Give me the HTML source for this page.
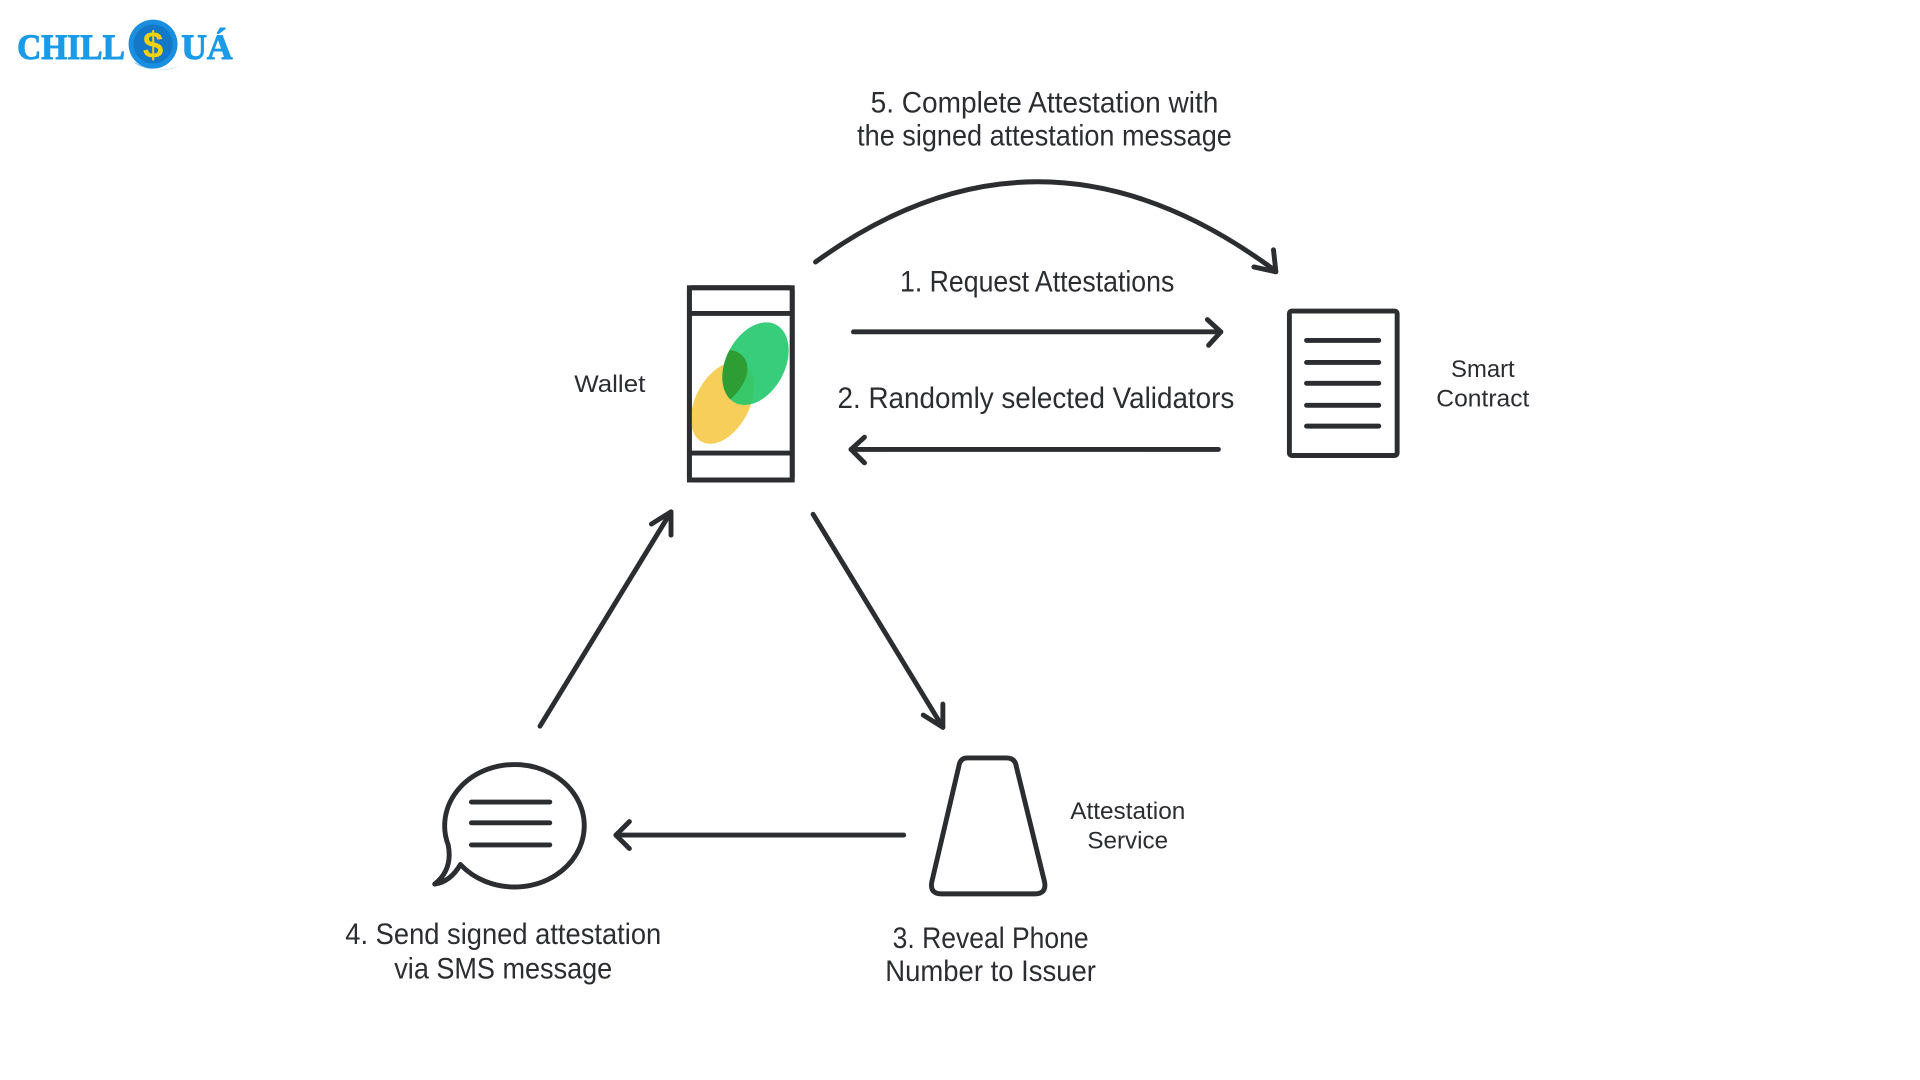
<!DOCTYPE html>
<html><head><meta charset="utf-8"><style>html,body{margin:0;padding:0;background:#fff;overflow:hidden}svg{display:block}</style></head>
<body>
<svg width="1920" height="1080" viewBox="0 0 1567 882" preserveAspectRatio="xMinYMin meet" xmlns="http://www.w3.org/2000/svg">
<rect width="1567" height="882" fill="#fff"/>
<text x="14" y="48" font-family="Liberation Serif, serif" font-weight="bold" font-size="29" fill="#1a9be8" stroke="#1a9be8" stroke-width="0.8" textLength="88" lengthAdjust="spacingAndGlyphs">CHILL</text>
<circle cx="125" cy="36" r="20" fill="#1a8fe0"/>
<circle cx="125" cy="36" r="16" fill="#1478c8"/>
<text x="125" y="47" text-anchor="middle" font-family="Liberation Sans, sans-serif" font-weight="bold" font-size="30" fill="#f5d10c">$</text>
<path d="M108 50 Q125 62 146 54 Q132 60 118 55 Z" fill="#1a9be8"/>
<text x="148" y="48" font-family="Liberation Serif, serif" font-weight="bold" font-size="29" fill="#1a9be8" stroke="#1a9be8" stroke-width="0.8" textLength="42" lengthAdjust="spacingAndGlyphs">UÁ</text>

<g font-family="Liberation Sans Narrow, Liberation Sans, sans-serif" fill="#2b2d30" text-anchor="middle">
<text x="853" y="92" font-size="24" textLength="284" lengthAdjust="spacingAndGlyphs">5. Complete Attestation with</text>
<text x="853" y="119" font-size="24" textLength="306" lengthAdjust="spacingAndGlyphs">the signed attestation message</text>
<text x="847" y="238" font-size="24" textLength="224" lengthAdjust="spacingAndGlyphs">1. Request Attestations</text>
<text x="846" y="333" font-size="24" textLength="324" lengthAdjust="spacingAndGlyphs">2. Randomly selected Validators</text>
<text x="498" y="320" font-size="20" textLength="58" lengthAdjust="spacingAndGlyphs">Wallet</text>
<text x="1211" y="308" font-size="20" textLength="52" lengthAdjust="spacingAndGlyphs">Smart</text>
<text x="1211" y="332" font-size="20" textLength="76" lengthAdjust="spacingAndGlyphs">Contract</text>
<text x="921" y="669" font-size="20" textLength="94" lengthAdjust="spacingAndGlyphs">Attestation</text>
<text x="921" y="693" font-size="20" textLength="66" lengthAdjust="spacingAndGlyphs">Service</text>
<text x="411" y="771" font-size="24" textLength="258" lengthAdjust="spacingAndGlyphs">4. Send signed attestation</text>
<text x="411" y="799" font-size="24" textLength="178" lengthAdjust="spacingAndGlyphs">via SMS message</text>
<text x="809" y="774" font-size="24" textLength="160" lengthAdjust="spacingAndGlyphs">3. Reveal Phone</text>
<text x="809" y="801" font-size="24" textLength="172" lengthAdjust="spacingAndGlyphs">Number to Issuer</text>
</g>

<g fill="none" stroke="#2b2d30" stroke-width="4" stroke-linecap="round" stroke-linejoin="round">
<path d="M666 214 Q850 80 1040 220"/>
<path d="M1040 204 L1042 222 L1024 218"/>
<path d="M697 271 L997 271"/><path d="M986 261 L997 271 L987 282"/>
<path d="M995 367 L695 367"/><path d="M706 357 L695 367 L706 378"/>
<path d="M664 420 L770 594"/><path d="M770 575 L770 594 L754 584"/>
<path d="M441 593 L548 418"/><path d="M532 428 L548 418 L548 437"/>
<path d="M738 682 L503 682"/><path d="M514 671 L503 682 L514 693"/>
<rect x="563" y="235" width="84" height="157" rx="2"/>
<path d="M565 256 L645 256 M565 370 L645 370"/>
<rect x="1053" y="254" width="88" height="118" rx="2"/>
<path d="M1067 278 H1126 M1067 296 H1126 M1067 313 H1126 M1067 331 H1126 M1067 348 H1126"/>
<path d="M790 619 L822 619 Q829 619 830 626 L853 720 Q855 730 845 730 L769 730 Q759 730 761 720 L783 626 Q784 619 790 619 Z"/>
<path d="M376 706 A57 50 0 1 0 366 690 Q370 710 355 722 Q368 720 376 706 Z"/>
<path d="M385 655 H449 M385 672 H449 M385 690 H449"/>
</g>
<ellipse cx="590" cy="329" rx="22" ry="36" transform="rotate(28 590 329)" fill="#f7c948" opacity="0.9"/>
<ellipse cx="617" cy="297" rx="24" ry="36" transform="rotate(28 617 297)" fill="#22c86c" opacity="0.9"/>
<clipPath id="c"><ellipse cx="590" cy="329" rx="22" ry="36" transform="rotate(28 590 329)"/></clipPath>
<ellipse cx="617" cy="297" rx="24" ry="36" transform="rotate(28 617 297)" fill="#2e9e34" clip-path="url(#c)"/>
<rect x="563" y="235" width="84" height="157" fill="none" stroke="#2b2d30" stroke-width="4"/>
</svg>
</body></html>
